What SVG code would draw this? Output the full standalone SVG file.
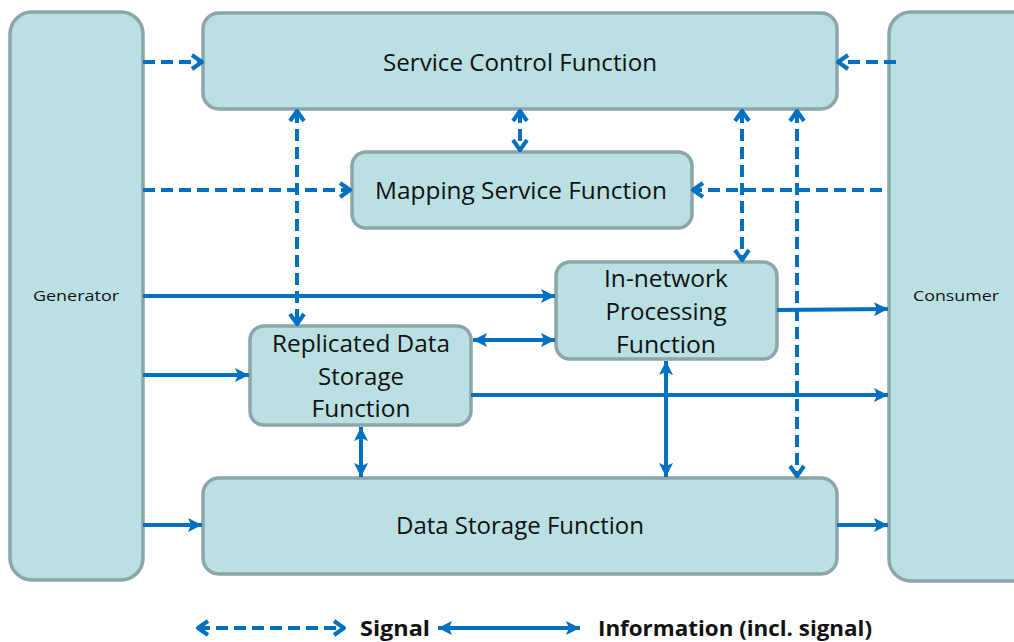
<svg xmlns="http://www.w3.org/2000/svg" width="1014" height="642" viewBox="0 0 1014 642">
<style>
.box{fill:#BAE0E3;stroke:#8BA5A8;stroke-width:3.5}
.t{font-family:"Open Sans","Liberation Sans",sans-serif;font-size:24px;fill:#111;text-anchor:middle}
.ts{font-family:"Open Sans","Liberation Sans",sans-serif;font-size:14px;fill:#111;text-anchor:middle}
.lg{font-family:"Open Sans","Liberation Sans",sans-serif;font-size:22px;font-weight:bold;fill:#111}
.sig{fill:none;stroke:#0070C0;stroke-width:4;stroke-dasharray:12 6;marker-end:url(#ah-d)}
.sig2{fill:none;stroke:#0070C0;stroke-width:4;stroke-dasharray:12 6;marker-end:url(#ah-d);marker-start:url(#ah-d)}
.inf{fill:none;stroke:#0070C0;stroke-width:4;marker-end:url(#ah-s)}
.inf2{fill:none;stroke:#0070C0;stroke-width:4;marker-end:url(#ah-s);marker-start:url(#ah-s)}
</style>
<defs>
<marker id="ah-s" markerUnits="userSpaceOnUse" markerWidth="16" markerHeight="16" viewBox="0 0 16 16" refX="15" refY="8" orient="auto-start-reverse">
<path d="M1,1 L15,8 L1,15 L4,8 z" fill="#0070C0"/>
</marker>
<marker id="ah-d" markerUnits="userSpaceOnUse" markerWidth="18" markerHeight="18" viewBox="0 0 18 18" refX="15" refY="9" orient="auto-start-reverse">
<path d="M5,2 L15,9 L5,16" fill="none" stroke="#0070C0" stroke-width="4" stroke-linejoin="round"/>
</marker>
</defs>
<rect width="1014" height="642" fill="#fff"/>
<g id="generator"><rect class="box" x="10" y="12" width="133" height="568" rx="22"/><text class="ts" x="76" y="301" textLength="86" lengthAdjust="spacingAndGlyphs">Generator</text></g>
<g id="consumer"><rect class="box" x="889" y="12" width="150" height="569" rx="22"/><text class="ts" x="956" y="301" textLength="86" lengthAdjust="spacingAndGlyphs">Consumer</text></g>
<g id="scf"><rect class="box" x="203" y="13" width="634" height="96" rx="16"/><text class="t" x="520" y="71" textLength="274" lengthAdjust="spacingAndGlyphs">Service Control Function</text></g>
<g id="msf"><rect class="box" x="352" y="152" width="340" height="76" rx="14"/><text class="t" x="521" y="199" textLength="292" lengthAdjust="spacingAndGlyphs">Mapping Service Function</text></g>
<g id="inp"><rect class="box" x="556" y="262" width="221" height="97" rx="14"/><text class="t" x="666" y="287" textLength="124" lengthAdjust="spacingAndGlyphs">In-network</text><text class="t" x="666" y="320" textLength="121" lengthAdjust="spacingAndGlyphs">Processing</text><text class="t" x="666" y="353" textLength="100" lengthAdjust="spacingAndGlyphs">Function</text></g>
<g id="rds"><rect class="box" x="250" y="326" width="221" height="99" rx="14"/><text class="t" x="361" y="352" textLength="178" lengthAdjust="spacingAndGlyphs">Replicated Data</text><text class="t" x="361" y="385" textLength="86" lengthAdjust="spacingAndGlyphs">Storage</text><text class="t" x="361" y="417" textLength="99" lengthAdjust="spacingAndGlyphs">Function</text></g>
<g id="dsf"><rect class="box" x="203" y="478" width="634" height="96" rx="16"/><text class="t" x="520" y="534" textLength="248" lengthAdjust="spacingAndGlyphs">Data Storage Function</text></g>
<g id="connectors">
<line class="sig" x1="143" y1="62" x2="202" y2="62"/>
<line class="sig" x1="896" y1="62" x2="838" y2="62"/>
<line class="sig2" x1="520" y1="111" x2="520" y2="150"/>
<line class="sig" x1="143" y1="190" x2="350" y2="190"/>
<line class="sig" x1="882" y1="190" x2="693" y2="190"/>
<line class="sig2" x1="297" y1="111" x2="297" y2="324"/>
<line class="sig2" x1="742" y1="111" x2="742" y2="260"/>
<line class="sig2" x1="797" y1="111" x2="797" y2="476"/>
<line class="inf" x1="143" y1="296" x2="555" y2="296"/>
<line class="inf2" x1="473" y1="340" x2="555" y2="340"/>
<line class="inf" x1="777" y1="310" x2="888" y2="309"/>
<line class="inf" x1="143" y1="375" x2="249" y2="375"/>
<line class="inf" x1="471" y1="395" x2="888" y2="395"/>
<line class="inf2" x1="361" y1="427" x2="361" y2="477"/>
<line class="inf2" x1="666" y1="361" x2="666" y2="477"/>
<line class="inf" x1="143" y1="525" x2="202" y2="525"/>
<line class="inf" x1="837" y1="525" x2="888" y2="525"/>
</g>
<g id="legend">
<line class="sig2" x1="198" y1="628" x2="344" y2="628"/>
<text class="lg" x="360" y="636" textLength="70" lengthAdjust="spacingAndGlyphs">Signal</text>
<line class="inf2" x1="438" y1="628" x2="580" y2="628"/>
<text class="lg" x="598" y="636" textLength="274" lengthAdjust="spacingAndGlyphs">Information (incl. signal)</text>
</g>
</svg>
